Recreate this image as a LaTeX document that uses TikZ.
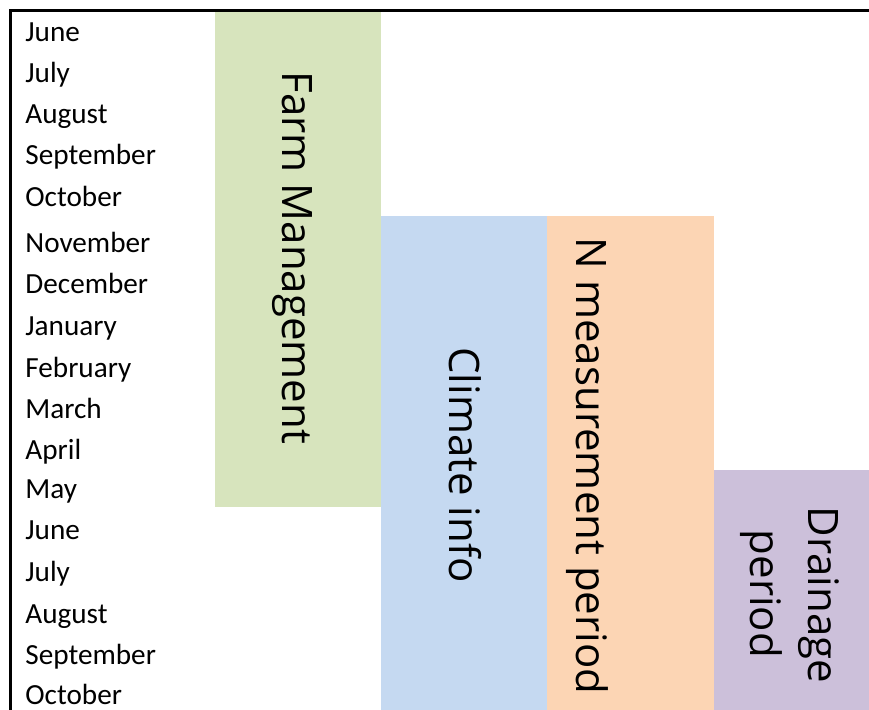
\documentclass[tikz,border=0pt]{standalone}
\usepackage{fontspec}
\setmainfont{Carlito}
\newfontfamily\labelfont{Open Sans}
\definecolor{farmgreen}{HTML}{D7E4BD}
\definecolor{climblue}{HTML}{C5D9F1}
\definecolor{nmorange}{HTML}{FCD5B4}
\definecolor{drainpurple}{HTML}{CCC0DA}

\begin{document}
\begin{tikzpicture}[x=0.5pt,y=-0.5pt,
  month/.style={anchor=base west,inner sep=0pt,font=\fontsize{14.6}{17}\selectfont},
  bigtext/.style={anchor=base,rotate=-90,inner sep=0pt,font=\labelfont\fontsize{21}{25}\selectfont}]
  \useasboundingbox (0,0) rectangle (869,710);

  % coloured periods
  \fill[farmgreen] (215,10) rectangle (381,507);
  \fill[climblue] (381,216) rectangle (547,710);
  \fill[nmorange] (547,216) rectangle (714,710);
  \fill[drainpurple] (714,470) rectangle (869,710);

  % month column
  \foreach \m/\y [count=\i] in {June/42,July/83,August/124,September/165,October/207,
      November/253,December/294,January/336,February/378,March/419,April/460,
      May/499,June/540,July/582,August/624,September/665,October/705}
    \node[month] (m\i) at (25,\y) {\m};

  % period labels
  \node[bigtext] (farm) at (282,258) {Farm Management};
  \node[bigtext] (climate) at (449,465) {Climate info};
  \node[bigtext] (nmeas) at (576,466) {N measurement period};
  \node[bigtext] (drain1) at (808,595) {Drainage};
  \node[bigtext] (drain2) at (750,594) {period};

  % frame
  \draw[line width=1.35pt] (10.3,710) -- (10.3,10.3) -- (869,10.3);
\end{tikzpicture}
\end{document}
